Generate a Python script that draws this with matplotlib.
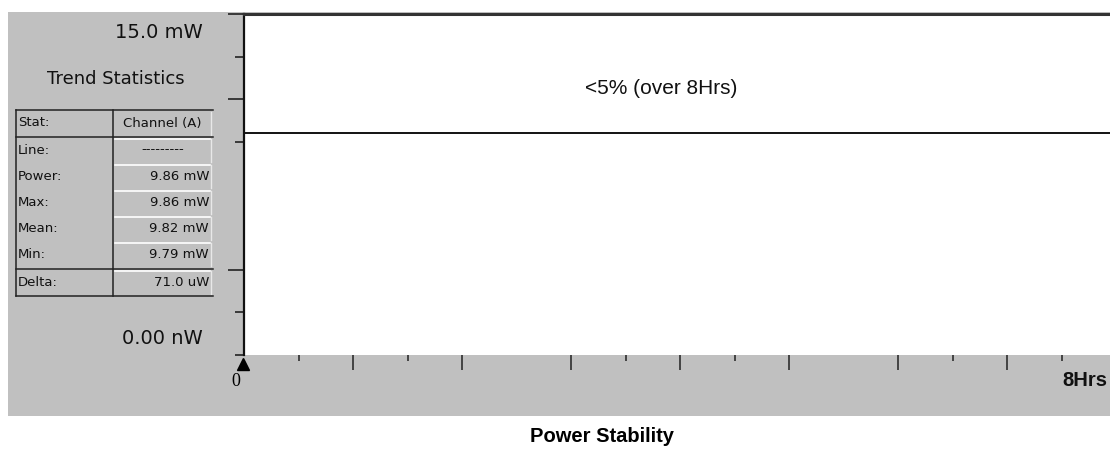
import matplotlib
matplotlib.use("Agg")
import matplotlib.pyplot as plt
from matplotlib.patches import Rectangle

# --- data ---
hours = [0, 1, 2, 3, 4, 5, 6, 7, 8]
power_mw = [9.78, 9.78, 9.78, 9.78, 9.78, 9.78, 9.78, 9.78, 9.78]
y_max_mw = 15.0
x_max_hrs = 8.0

y_major = [3.75, 11.25, 15.0]
y_minor = [0.0, 1.875, 9.375, 13.125]
x_major = [1, 2, 3, 4, 5, 6, 7]
x_minor = [0.5, 1.5, 3.5, 4.5, 6.5, 7.5]

stat_labels = ["Stat:", "Line:", "Power:", "Max:", "Mean:", "Min:", "Delta:"]
stat_values = ["Channel (A)", "---------", "9.86 mW", "9.86 mW", "9.82 mW", "9.79 mW", "71.0 uW"]

GRAY = "#c0c0c0"
W, H = 1110, 454

fig = plt.figure(figsize=(W / 100, H / 100), dpi=100)
fig.patch.set_facecolor("white")

# pixel-space background layer
bg = fig.add_axes([0, 0, 1, 1], zorder=0)
bg.set_xlim(0, W); bg.set_ylim(H, 0); bg.axis("off")
bg.add_patch(Rectangle((8, 12), W - 8, 404, facecolor=GRAY, edgecolor="none"))

# main trend plot (right edge runs past the figure, as in the screenshot)
x0, x8 = 244, 1116
ytop, ybot = 14, 355
ax = fig.add_axes([x0 / W, (H - ybot) / H, (x8 - x0) / W, (ybot - ytop) / H], zorder=2)
ax.set_facecolor("white")
ax.plot(hours, power_mw, color="black", lw=1.3, clip_on=False)
ax.set_xlim(0, x_max_hrs)
ax.set_ylim(0, y_max_mw)

for s in ["right", "bottom"]:
    ax.spines[s].set_visible(False)
ax.spines["left"].set_linewidth(1.6)
ax.spines["left"].set_color("#111111")
ax.spines["top"].set_linewidth(2.2)
ax.spines["top"].set_color("#333333")

ax.set_yticks(y_major)
ax.set_yticks(y_minor, minor=True)
ax.set_xticks(x_major)
ax.set_xticks(x_minor, minor=True)
ax.tick_params(axis="y", which="major", direction="out", length=11.5, width=1.2, color="#222222", labelleft=False)
ax.tick_params(axis="y", which="minor", direction="out", length=6.5, width=1.2, color="#222222")
ax.tick_params(axis="x", which="major", direction="out", length=10.5, width=1.1, color="#222222", labelbottom=False)
ax.tick_params(axis="x", which="minor", direction="out", length=4.5, width=1.1, color="#222222")

ax.text(661, 88, "<5% (over 8Hrs)", transform=bg.transData, ha="center", va="center",
        fontsize=15, family="Liberation Sans", color="#111111")

# start marker and axis end labels
bg.plot([243], [364], marker="^", color="black", markersize=9, zorder=3)
bg.text(236, 381, "0", ha="center", va="center", fontsize=13, family="Liberation Serif")
bg.text(1062, 380, "8Hrs", ha="left", va="center", fontsize=14.5, fontweight="bold",
        family="Liberation Sans", color="#111111")

# left statistics panel
bg.text(203, 32, "15.0 mW", ha="right", va="center", fontsize=14, color="#111111")
bg.text(116, 79, "Trend Statistics", ha="center", va="center", fontsize=13, color="#111111")
bg.text(203, 339, "0.00 nW", ha="right", va="center", fontsize=14, color="#111111")

tl, tm, tr = 16, 113, 212
row_tops = [110, 137, 163, 189, 215, 241, 269]
row_h = 26
for i, (lab, val) in enumerate(zip(stat_labels, stat_values)):
    yt = row_tops[i]
    yc = yt + row_h / 2
    bg.text(tl + 2, yc, lab, ha="left", va="center", fontsize=9.5, color="#111111")
    if i <= 1:
        bg.text((tm + tr) / 2, yc, val, ha="center", va="center", fontsize=9.5, color="#111111")
    else:
        bg.text(tr - 3, yc, val, ha="right", va="center", fontsize=9.5, color="#111111")
    if i >= 1:
        bg.plot([tm + 2, tr - 2], [yt + 2, yt + 2], color="white", lw=1.2)
    bg.plot([tr - 1, tr - 1], [yt + 2, yt + row_h - 1], color="#e8e8e8", lw=1)

bot = 296
for yy in [110, 137, 269, bot]:
    bg.plot([tl, tr + 1], [yy, yy], color="#222222", lw=1.1)
bg.plot([tl, tl], [110, bot], color="#222222", lw=1.1)
bg.plot([tm, tm], [110, bot], color="#222222", lw=1.1)

fig.text(602 / W, 1 - 437 / H, "Power Stability", ha="center", va="center",
         fontsize=14.5, fontweight="bold", family="Liberation Sans")

fig.savefig("out.png", dpi=100)
